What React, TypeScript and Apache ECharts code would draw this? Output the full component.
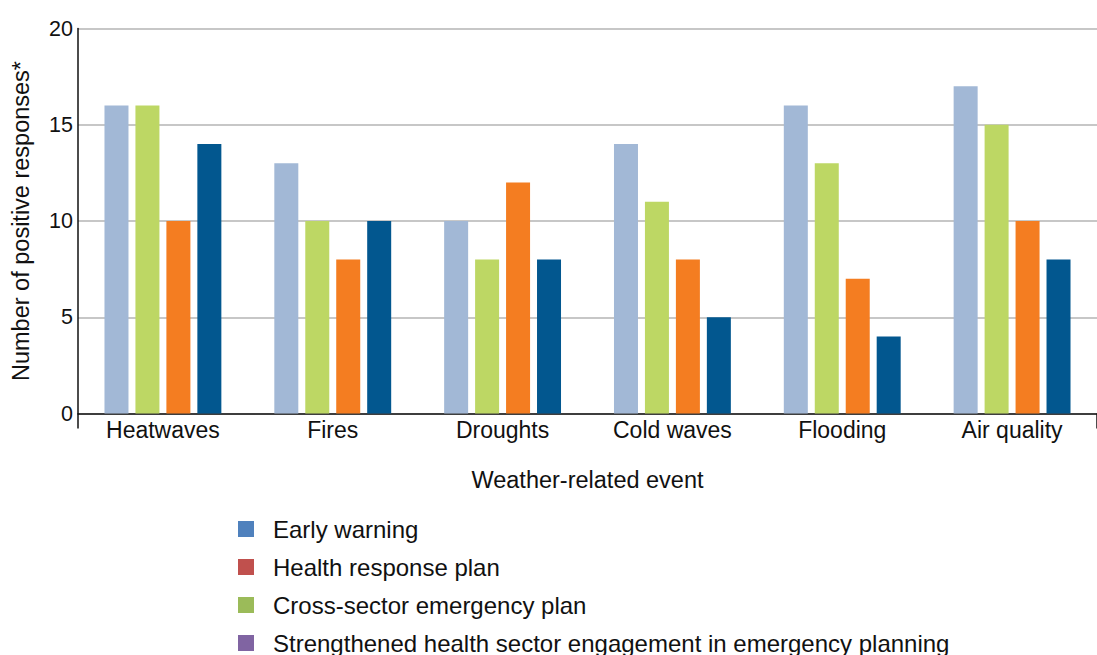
import React, { useEffect, useRef } from "react";
import * as echarts from "echarts";

const categories = ["Heatwaves", "Fires", "Droughts", "Cold waves", "Flooding", "Air quality"];
const seriesNames = [
  "Early warning",
  "Health response plan",
  "Cross-sector emergency plan",
  "Strengthened health sector engagement in emergency planning",
];
const earlyWarning = [16, 13, 10, 14, 16, 17];
const healthResponse = [16, 10, 8, 11, 13, 15];
const crossSector = [10, 8, 12, 8, 7, 10];
const strengthened = [14, 10, 8, 5, 4, 8];
const barColors = ["#A2B8D6", "#BDD764", "#F47D21", "#02578F"];
const legendColors = ["#4F81BD", "#C0504D", "#9BBB59", "#8064A2"];
const yTicks = [0, 5, 10, 15, 20];

const FONT = "'Liberation Sans', Arial, Helvetica, sans-serif";

export default function App() {
  const ref = useRef<HTMLDivElement>(null);
  useEffect(() => {
    if (!ref.current) return;
    const chart = echarts.init(ref.current, null, { renderer: "svg" });
    const values = [earlyWarning, healthResponse, crossSector, strengthened];
    chart.setOption({
      animation: false,
      backgroundColor: "#ffffff",
      textStyle: { fontFamily: FONT },
      grid: { left: 78, top: 28.5, bottom: 241.5, right: -11, containLabel: false },
      legend: {
        orient: "vertical",
        left: 238,
        top: 517,
        padding: 0,
        height: 250,
        itemWidth: 16,
        itemHeight: 16,
        itemGap: 14,
        icon: "rect",
        textStyle: {
          fontFamily: FONT,
          fontSize: 24,
          lineHeight: 18,
          color: "#111",
          padding: [0, 0, 0, 14],
        },
        data: seriesNames.map((n, i) => ({ name: n, itemStyle: { color: legendColors[i] } })),
      },
      xAxis: {
        type: "category",
        data: categories,
        boundaryGap: true,
        name: "Weather-related event",
        nameLocation: "middle",
        nameGap: 54,
        nameTextStyle: { fontFamily: FONT, fontSize: 23.5, color: "#111" },
        axisLine: { show: true, lineStyle: { color: "#111", width: 1.5 } },
        axisTick: {
          show: true,
          length: 15,
          interval: (index: number) => index === 0,
          lineStyle: { color: "#111", width: 1.5 },
        },
        axisLabel: { fontFamily: FONT, fontSize: 23, color: "#111", margin: 5, interval: 0 },
        splitLine: { show: false },
      },
      yAxis: {
        type: "value",
        min: yTicks[0],
        max: yTicks[yTicks.length - 1],
        interval: 5,
        name: "Number of positive responses*",
        nameLocation: "middle",
        nameGap: 45,
        nameTextStyle: { fontFamily: FONT, fontSize: 23.5, color: "#111" },
        axisLine: { show: true, lineStyle: { color: "#111", width: 1.5 } },
        axisTick: { show: false },
        axisLabel: { fontFamily: FONT, fontSize: 21.5, color: "#111", margin: 5 },
        splitLine: { show: true, lineStyle: { color: "#b5b5b5", width: 1.5 } },
      },
      series: seriesNames.map((n, i) => ({
        name: n,
        type: "bar",
        data: values[i],
        barWidth: 24,
        barGap: "29%",
        itemStyle: { color: barColors[i] },
        emphasis: { disabled: true },
      })),
    });
    return () => chart.dispose();
  }, []);
  return (
    <div
      ref={ref}
      style={{ position: "fixed", left: 0, top: 0, width: 1097, height: 655 }}
    />
  );
}
